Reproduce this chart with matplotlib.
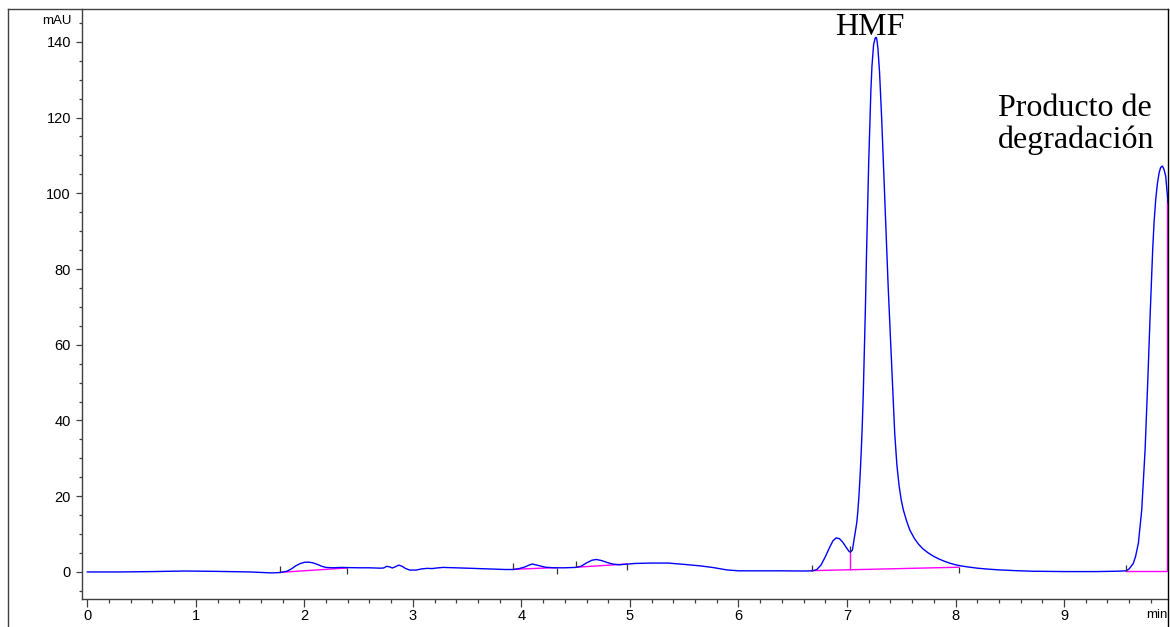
import matplotlib
matplotlib.use("Agg")
import matplotlib.pyplot as plt
from matplotlib.ticker import MultipleLocator, FixedLocator
from matplotlib.lines import Line2D
from matplotlib import font_manager

# ---------------- data ----------------
time_min = [
    0.00, 0.30, 0.60, 0.90, 1.20, 1.50, 1.70, 1.78, 1.84, 1.88, 1.92, 1.96, 2.00, 2.04,
    2.08, 2.12, 2.16, 2.20, 2.26, 2.34, 2.40, 2.50, 2.60, 2.70, 2.73, 2.76, 2.79, 2.81,
    2.84, 2.87, 2.90, 2.93, 2.97, 3.03, 3.08, 3.13, 3.18, 3.22, 3.28, 3.40, 3.55, 3.70,
    3.85, 3.93, 3.98, 4.03, 4.07, 4.10, 4.13, 4.17, 4.22, 4.30, 4.40, 4.50, 4.55, 4.60,
    4.65, 4.69, 4.74, 4.79, 4.84, 4.90, 4.97, 5.05, 5.20, 5.35, 5.50, 5.65, 5.77, 5.89,
    6.00, 6.20, 6.40, 6.60, 6.68, 6.72, 6.76, 6.80, 6.84, 6.87, 6.90, 6.93, 6.96, 6.99,
    7.02, 7.032, 7.05, 7.075, 7.09, 7.10, 7.11, 7.12, 7.13, 7.14, 7.15, 7.16, 7.17, 7.18,
    7.19, 7.20, 7.21, 7.22, 7.23, 7.245, 7.26, 7.268, 7.275, 7.285, 7.30, 7.32, 7.34, 7.36,
    7.38, 7.40, 7.42, 7.44, 7.46, 7.48, 7.50, 7.52, 7.55, 7.58, 7.62, 7.66, 7.70, 7.75,
    7.80, 7.85, 7.90, 7.95, 8.00, 8.05, 8.12, 8.20, 8.30, 8.40, 8.55, 8.70, 9.00, 9.30,
    9.50, 9.571, 9.60, 9.639, 9.66, 9.685, 9.716, 9.747, 9.771, 9.793, 9.817, 9.83, 9.845,
    9.86, 9.876, 9.89, 9.906, 9.92, 9.937, 9.958,
]
signal_mau = [
    0.0, 0.0, 0.1, 0.25, 0.15, 0.0, -0.25, -0.15, 0.2, 0.8, 1.6, 2.2, 2.55, 2.6,
    2.4, 2.0, 1.5, 1.2, 1.1, 1.2, 1.15, 1.1, 1.1, 1.0, 1.05, 1.5, 1.3, 1.05,
    1.4, 1.8, 1.5, 0.95, 0.5, 0.5, 0.8, 0.95, 0.9, 1.05, 1.2, 1.1, 0.95, 0.8,
    0.65, 0.65, 0.9, 1.3, 1.8, 2.1, 1.9, 1.6, 1.25, 1.1, 1.1, 1.2, 1.5, 2.4,
    3.1, 3.3, 3.0, 2.5, 2.1, 1.9, 2.05, 2.25, 2.35, 2.35, 2.0, 1.6, 1.15, 0.55,
    0.3, 0.3, 0.3, 0.25, 0.3, 0.6, 1.8, 4.0, 6.5, 8.2, 9.0, 8.8, 7.9, 6.6,
    5.4, 5.2, 5.8, 10.2, 13.0, 16.0, 20.0, 25.0, 31.0, 38.0, 47.0, 58.0, 70.0, 84.0,
    96.0, 108.0, 118.0, 127.0, 133.5, 139.2, 141.0, 141.2, 140.7, 138.3, 132.0, 119.5, 104.5, 89.0,
    75.0, 62.0, 48.5, 36.5, 28.2, 22.8, 19.0, 16.3, 13.4, 11.0, 8.9, 7.3, 6.1, 5.0,
    4.1, 3.4, 2.8, 2.3, 1.9, 1.6, 1.3, 1.0, 0.75, 0.55, 0.35, 0.2, 0.1, 0.1,
    0.2, 0.3, 0.8, 2.3, 4.2, 7.6, 16.4, 32.3, 49.9, 67.5, 85.2, 92.5, 98.4,
    102.5, 105.4, 106.8, 107.2, 106.4, 104.5, 97.5,
]

# integration baselines (start time, start value, end time, end value)
base_t0 = [1.777, 3.926, 4.504, 6.676, 9.571]
base_y0 = [-0.1, 0.70, 1.25, 0.35, 0.30]
base_t1 = [2.394, 4.325, 4.975, 8.030, 9.952]
base_y1 = [1.05, 1.15, 2.10, 1.25, 0.30]

# peak drop lines (time, bottom, top)
drop_t = [7.032, 9.952]
drop_lo = [0.59, 0.30]
drop_hi = [5.2, 98.4]

# integration event marks
start_mark_t = [1.777, 3.926, 4.504, 6.676, 7.032, 9.571]
start_mark_y = [-0.1, 0.70, 1.25, 0.35, 5.2, 0.30]
end_mark_t = [2.394, 4.325, 4.975, 8.030]
end_mark_y = [1.05, 1.15, 2.10, 1.25]

x_major = [0, 1, 2, 3, 4, 5, 6, 7, 8, 9]
y_major = [0, 20, 40, 60, 80, 100, 120, 140]

peak_labels = ["HMF", "Producto de", "degradación"]
y_unit = "mAU"
x_unit = "min"

# ---------------- fonts ----------------
names = {f.name for f in font_manager.fontManager.ttflist}
sans = "Liberation Sans" if "Liberation Sans" in names else "DejaVu Sans"
serif = "Liberation Serif" if "Liberation Serif" in names else "DejaVu Serif"
plt.rcParams["font.family"] = [sans, "DejaVu Sans"]

W, H = 1170, 627
fig = plt.figure(figsize=(W / 100, H / 100), dpi=100)
fig.patch.set_facecolor("white")

ax_l, ax_r, ax_b, ax_t = 82, 1168, 599, 8.5
ax = fig.add_axes([ax_l / W, (H - ax_b) / H, (ax_r - ax_l) / W, (ax_b - ax_t) / H])

frame_c = "#404040"
# outer frame of the report
fig.add_artist(Line2D([8 / W, 8 / W], [0, 1 - ax_t / H], transform=fig.transFigure, color=frame_c, lw=1.0))
fig.add_artist(Line2D([8 / W, ax_r / W], [1 - ax_t / H, 1 - ax_t / H], transform=fig.transFigure, color=frame_c, lw=1.0))
fig.add_artist(Line2D([ax_r / W, ax_r / W], [0, 1 - ax_t / H], transform=fig.transFigure, color="black", lw=1.0))

ax.set_xlim(-0.049, 9.958)
ax.set_ylim(-7.14, 148.8)

# integration baselines and drop lines
for t0, y0, t1, y1 in zip(base_t0, base_y0, base_t1, base_y1):
    ax.plot([t0, t1], [y0, y1], color="#ff00ff", lw=1.0, zorder=2)
ax.vlines(drop_t, drop_lo, drop_hi, color="#ff00ff", lw=1.0, zorder=2)

# signal trace
ax.plot(time_min, signal_mau, color="#0000ff", lw=1.0, zorder=3)

# event marks
ax.plot(start_mark_t, start_mark_y, ls="none", marker=2, ms=4.5, mew=0.9, color="#333333", zorder=4)
ax.plot(end_mark_t, end_mark_y, ls="none", marker=3, ms=4.0, mew=0.9, color="#333333", zorder=4)

# axes styling
for s in ["top", "right"]:
    ax.spines[s].set_visible(False)
for s in ["left", "bottom"]:
    ax.spines[s].set_color(frame_c)
    ax.spines[s].set_linewidth(1.0)

ax.xaxis.set_major_locator(FixedLocator(x_major))
ax.xaxis.set_minor_locator(MultipleLocator(0.2))
ax.yaxis.set_major_locator(FixedLocator(y_major))
ax.yaxis.set_minor_locator(MultipleLocator(5))
ax.set_xticklabels([str(v) for v in x_major])
ax.set_yticklabels([str(v) for v in y_major])

ax.tick_params(axis="x", which="major", length=5.5, width=0.9, color=frame_c, pad=2, labelsize=10.5)
ax.tick_params(axis="x", which="minor", length=3.0, width=0.9, color=frame_c)
ax.tick_params(axis="y", which="major", length=4.5, width=0.9, color=frame_c, pad=3.5, labelsize=10.5)
ax.tick_params(axis="y", which="minor", length=2.5, width=0.9, color=frame_c)

ax.annotate(y_unit, xy=(0, 145), xycoords=("axes fraction", "data"), xytext=(-10.5, 1.5),
            textcoords="offset pixels", ha="right", va="center", fontsize=9.5)
ax.annotate(x_unit, xy=(1, 0), xycoords="axes fraction", xytext=(0, -10.4),
            textcoords="offset pixels", ha="right", va="top", fontsize=9.5)

# peak labels
ax.text(7.21, 141.8, peak_labels[0], family=[serif], fontsize=23, ha="center", va="baseline")
ax.text(8.39, 120.5, peak_labels[1], family=[serif], fontsize=23, ha="left", va="baseline")
ax.text(8.39, 111.9, peak_labels[2], family=[serif], fontsize=23, ha="left", va="baseline")

fig.savefig("out.png", dpi=100, facecolor="white")
